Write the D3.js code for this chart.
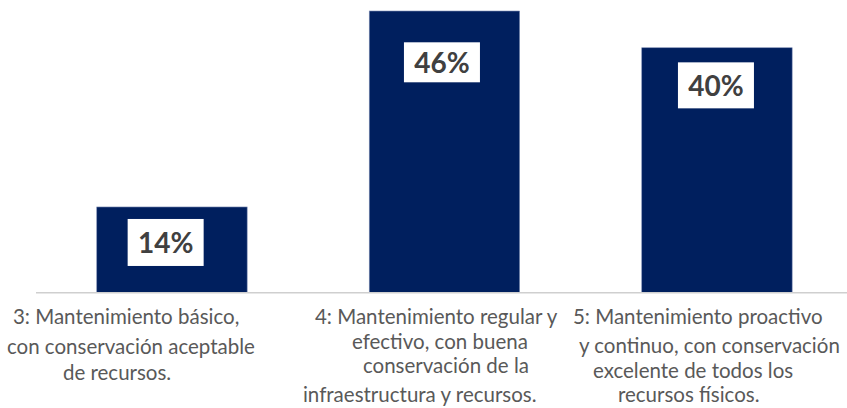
<!DOCTYPE html>
<html>
<head>
<meta charset="utf-8">
<script src="https://cdn.jsdelivr.net/npm/d3@7"></script>
<style>
  html, body { margin: 0; padding: 0; background: #ffffff; }
  svg { display: block; }
</style>
</head>
<body>
<svg id="chart" width="847" height="408"></svg>
<script>
// ---- data ----
const categories = ["3", "4", "5"];
const values = [14, 46, 40];
const valueLabels = ["14%", "46%", "40%"];
const categoryLines = [
  ["3: Mantenimiento básico,", "con conservación aceptable", "de recursos."],
  ["4: Mantenimiento regular y", "efectivo, con buena", "conservación de la", "infraestructura y recursos."],
  ["5: Mantenimiento proactivo", "y continuo, con conservación", "excelente de todos los", "recursos físicos."]
];

// ---- layout (pixels, not data) ----
const W = 847, H = 408;
const baseY = 292.7, topY = 11;
const labelBox = [ {dx: -6.3, dy: 12, h: 47}, {dx: -2.5, dy: 31.3, h: 40}, {dx: -1, dy: 14.6, h: 46} ];
// x of each category-label line relative to bar centre, and baselines
const lineX = [
  [-159, -165, -109],
  [-129.5, -92.5, -81.5, -141.5],
  [-144, -138, -124, -99]
];
const lineY = [
  [324, 354, 380],
  [324, 349, 373, 402],
  [324, 353, 378, 402]
];

const svg = d3.select("#chart");

const x = d3.scaleBand()
  .domain(categories)
  .range([35.7, 853.2])
  .paddingInner(0.448)
  .paddingOuter(0.224);

const y = d3.scaleLinear()
  .domain([0, d3.max(values)])
  .range([baseY, topY]);

const data = categories.map((c, i) => ({c, v: values[i], label: valueLabels[i], i}));

// bars
svg.append("g").selectAll("rect")
  .data(data)
  .join("rect")
  .attr("x", d => x(d.c))
  .attr("y", d => y(d.v))
  .attr("width", x.bandwidth())
  .attr("height", d => y(0) - y(d.v))
  .attr("fill", "#001f5e")
  .attr("stroke", "#7f8fb5")
  .attr("stroke-width", 0.6);

// baseline axis
const axisG = svg.append("g").attr("transform", `translate(0,${baseY})`);
axisG.call(d3.axisBottom(x).tickSize(0).tickFormat(""));
axisG.select(".domain").attr("d", `M36,0H847`).attr("stroke", "#cfcfcf").attr("stroke-width", 1.6);

// value labels
const lab = svg.append("g").selectAll("g")
  .data(data)
  .join("g")
  .attr("transform", d => {
    const b = labelBox[d.i];
    const cx = x(d.c) + x.bandwidth() / 2 + b.dx;
    return `translate(${cx},${y(d.v) + b.dy})`;
  });
lab.append("rect")
  .attr("x", -38)
  .attr("y", 0)
  .attr("width", 76)
  .attr("height", d => labelBox[d.i].h)
  .attr("fill", "#ffffff");
lab.append("text")
  .attr("x", 0)
  .attr("y", d => labelBox[d.i].h / 2 + 10.5)
  .attr("text-anchor", "middle")
  .attr("font-family", "Lato, 'Open Sans', sans-serif")
  .attr("font-weight", 700)
  .attr("font-size", 28)
  .attr("fill", "#404040")
  .text(d => d.label);

// category labels
const catG = svg.append("g").selectAll("g")
  .data(data)
  .join("g");
catG.each(function(d) {
  const g = d3.select(this);
  const cx = x(d.c) + x.bandwidth() / 2;
  categoryLines[d.i].forEach((t, k) => {
    g.append("text")
      .attr("x", cx + lineX[d.i][k])
      .attr("y", lineY[d.i][k])
      .attr("font-family", "Lato, 'Open Sans', sans-serif")
      .attr("font-size", 20.5)
      .attr("fill", "#595959")
      .text(t);
  });
});
</script>
</body>
</html>
